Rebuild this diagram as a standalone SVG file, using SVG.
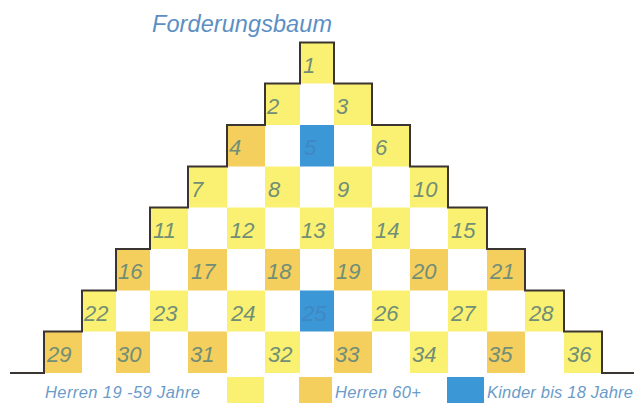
<svg xmlns="http://www.w3.org/2000/svg" width="639" height="403" viewBox="0 0 639 403">
<style>
.y{fill:#faf172}
.o{fill:#f5cf5e}
.b{fill:#3b97d5}
.n{font-family:"Liberation Sans",Arial,sans-serif;font-style:italic;font-size:22px;fill:#718e76}
.nb{font-family:"Liberation Sans",Arial,sans-serif;font-style:italic;font-size:22px;fill:#3f88c4}
.t{font-family:"Liberation Sans",Arial,sans-serif;font-style:italic;font-size:23.5px;fill:#5c8fc3}
.l{font-family:"Liberation Sans",Arial,sans-serif;font-style:italic;font-size:16.5px;fill:#6b9bc9}
.edge{fill:none;stroke:#3a3530;stroke-width:2}
</style>
<rect width="639" height="403" fill="#ffffff"/>
<text class="t" x="152" y="32" textLength="180">Forderungsbaum</text>
<g id="cells">
<g id="cell-1"><rect class="y" x="300" y="42.5" width="34" height="41"/><text class="n" x="303" y="72.5">1</text></g>
<g id="cell-2"><rect class="y" x="265" y="83.5" width="35" height="41.5"/><text class="n" x="267" y="113.5">2</text></g>
<g id="cell-3"><rect class="y" x="334" y="83.5" width="38" height="41.5"/><text class="n" x="336" y="113.5">3</text></g>
<g id="cell-4"><rect class="o" x="227" y="125" width="38" height="41.5"/><text class="n" x="229" y="155">4</text></g>
<g id="cell-5"><rect class="b" x="300" y="125" width="34" height="41.5"/><text class="nb" x="304" y="155">5</text></g>
<g id="cell-6"><rect class="y" x="372" y="125" width="38" height="41.5"/><text class="n" x="375" y="155">6</text></g>
<g id="cell-7"><rect class="y" x="188" y="166.5" width="39" height="41"/><text class="n" x="191" y="196.5">7</text></g>
<g id="cell-8"><rect class="y" x="265" y="166.5" width="35" height="41"/><text class="n" x="268" y="196.5">8</text></g>
<g id="cell-9"><rect class="y" x="334" y="166.5" width="38" height="41"/><text class="n" x="337" y="196.5">9</text></g>
<g id="cell-10"><rect class="y" x="410" y="166.5" width="38" height="41"/><text class="n" x="413" y="196.5">10</text></g>
<g id="cell-11"><rect class="y" x="150" y="207.5" width="38" height="41.5"/><text class="n" x="153" y="237.5">11</text></g>
<g id="cell-12"><rect class="y" x="227" y="207.5" width="38" height="41.5"/><text class="n" x="230" y="237.5">12</text></g>
<g id="cell-13"><rect class="y" x="300" y="207.5" width="34" height="41.5"/><text class="n" x="301" y="237.5">13</text></g>
<g id="cell-14"><rect class="y" x="372" y="207.5" width="38" height="41.5"/><text class="n" x="375" y="237.5">14</text></g>
<g id="cell-15"><rect class="y" x="448" y="207.5" width="39" height="41.5"/><text class="n" x="451" y="237.5">15</text></g>
<g id="cell-16"><rect class="o" x="116" y="249" width="34" height="41.5"/><text class="n" x="118" y="279">16</text></g>
<g id="cell-17"><rect class="o" x="188" y="249" width="39" height="41.5"/><text class="n" x="191" y="279">17</text></g>
<g id="cell-18"><rect class="o" x="265" y="249" width="35" height="41.5"/><text class="n" x="267" y="279">18</text></g>
<g id="cell-19"><rect class="o" x="334" y="249" width="38" height="41.5"/><text class="n" x="336" y="279">19</text></g>
<g id="cell-20"><rect class="o" x="410" y="249" width="38" height="41.5"/><text class="n" x="412" y="279">20</text></g>
<g id="cell-21"><rect class="o" x="487" y="249" width="38" height="41.5"/><text class="n" x="490" y="279">21</text></g>
<g id="cell-22"><rect class="y" x="82" y="290.5" width="34" height="41"/><text class="n" x="84" y="320.5">22</text></g>
<g id="cell-23"><rect class="y" x="150" y="290.5" width="38" height="41"/><text class="n" x="153" y="320.5">23</text></g>
<g id="cell-24"><rect class="y" x="227" y="290.5" width="38" height="41"/><text class="n" x="231" y="320.5">24</text></g>
<g id="cell-25"><rect class="b" x="300" y="290.5" width="34" height="41"/><text class="nb" x="302" y="320.5">25</text></g>
<g id="cell-26"><rect class="y" x="372" y="290.5" width="38" height="41"/><text class="n" x="374" y="320.5">26</text></g>
<g id="cell-27"><rect class="y" x="448" y="290.5" width="39" height="41"/><text class="n" x="451" y="320.5">27</text></g>
<g id="cell-28"><rect class="y" x="525" y="290.5" width="39" height="41"/><text class="n" x="529" y="320.5">28</text></g>
<g id="cell-29"><rect class="o" x="44" y="331.5" width="38" height="41.5"/><text class="n" x="47" y="361.5">29</text></g>
<g id="cell-30"><rect class="o" x="116" y="331.5" width="34" height="41.5"/><text class="n" x="117" y="361.5">30</text></g>
<g id="cell-31"><rect class="o" x="188" y="331.5" width="39" height="41.5"/><text class="n" x="190" y="361.5">31</text></g>
<g id="cell-32"><rect class="y" x="265" y="331.5" width="35" height="41.5"/><text class="n" x="268" y="361.5">32</text></g>
<g id="cell-33"><rect class="o" x="334" y="331.5" width="38" height="41.5"/><text class="n" x="335" y="361.5">33</text></g>
<g id="cell-34"><rect class="y" x="410" y="331.5" width="38" height="41.5"/><text class="n" x="412" y="361.5">34</text></g>
<g id="cell-35"><rect class="o" x="487" y="331.5" width="38" height="41.5"/><text class="n" x="488" y="361.5">35</text></g>
<g id="cell-36"><rect class="y" x="564" y="331.5" width="38" height="41.5"/><text class="n" x="567" y="361.5">36</text></g>
</g>
<g id="outline">
<path class="edge" d="M10 373 H44 V331.5 H82 V290.5 H116 V249 H150 V207.5 H188 V166.5 H227 V125 H265 V83.5 H300 V42.5 H334 V83.5 H372 V125 H410 V166.5 H448 V207.5 H487 V249 H525 V290.5 H564 V331.5 H602 V373 H634"/>
</g>
<g id="legend">
<g id="legend-herren"><text class="l" x="45" y="398" textLength="155">Herren 19 -59 Jahre</text><rect class="y" x="227" y="377" width="37" height="26"/></g>
<g id="legend-senioren"><rect class="o" x="299" y="377" width="33" height="26"/><text class="l" x="335" y="398" textLength="86">Herren 60+</text></g>
<g id="legend-kinder"><rect class="b" x="447" y="377" width="37" height="26"/><text class="l" x="487" y="398" textLength="146">Kinder bis 18 Jahre</text></g>
</g>
</svg>
